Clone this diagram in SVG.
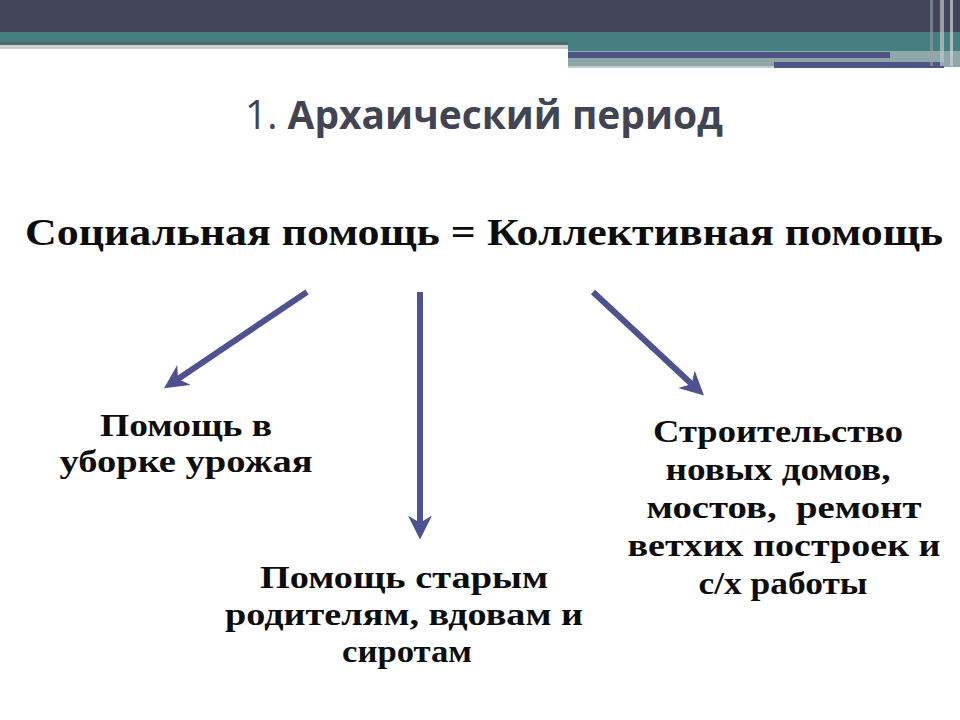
<svg xmlns="http://www.w3.org/2000/svg" width="960" height="720" viewBox="0 0 960 720">
<style>
.t{font-family:"Liberation Serif","Times New Roman",serif;font-weight:bold;fill:#0d0d0d;text-anchor:middle}
.s{font-size:31px}
.c{stroke:#4e5290;stroke-width:6;fill:none}
</style>
<defs>
<marker id="ah" viewBox="0 0 10 10" refX="6" refY="5" markerWidth="4" markerHeight="4" orient="auto" markerUnits="strokeWidth">
<path d="M0,0 L10,5 L0,10 L3,5 Z" fill="#4e5290"/>
</marker>
</defs>
<rect width="960" height="720" fill="#fff"/>
<g id="banner">
<rect x="0" y="0" width="960" height="32" fill="#43455a"/>
<rect x="0" y="32" width="960" height="11" fill="#467f80"/>
<rect x="0" y="42" width="568" height="3" fill="#56676a"/>
<rect x="0" y="45" width="568" height="4" fill="#c9d0d2"/>
<rect x="568" y="43" width="392" height="8" fill="#467f80"/>
<rect x="568" y="51" width="392" height="16" fill="#8ea8aa"/>
<rect x="568" y="52" width="322" height="6" fill="#4f5485"/>
<rect x="774" y="62" width="170" height="6" fill="#4f5485"/>
<rect x="568" y="66" width="206" height="2" fill="#c4ccce"/>
<rect x="930" y="0" width="3" height="66" fill="#9aa0a8" opacity="0.6"/>
<rect x="940" y="0" width="4" height="66" fill="#c0c4cc" opacity="0.7"/>
<rect x="950" y="0" width="3" height="66" fill="#d0d4da" opacity="0.7"/>
</g>
<g id="title">
<text x="484" y="129" font-family="'Open Sans','Liberation Sans',sans-serif" font-size="40" fill="#434452" text-anchor="middle" textLength="478" lengthAdjust="spacingAndGlyphs"><tspan font-weight="normal">1. </tspan><tspan font-weight="bold">Архаический период</tspan></text>
</g>
<g id="main">
<text class="t" x="484" y="245" font-size="38" textLength="918" lengthAdjust="spacingAndGlyphs">Социальная помощь = Коллективная помощь</text>
</g>
<g id="connectors">
<line class="c" x1="307" y1="292" x2="172" y2="383" marker-end="url(#ah)"/>
<line class="c" x1="420" y1="292" x2="420" y2="530" marker-end="url(#ah)"/>
<line class="c" x1="593" y1="292" x2="697" y2="389" marker-end="url(#ah)"/>
</g>
<g id="n1">
<text class="t s" x="186" y="436" textLength="172" lengthAdjust="spacingAndGlyphs">Помощь в</text>
<text class="t s" x="186" y="472" textLength="253" lengthAdjust="spacingAndGlyphs">уборке урожая</text>
</g>
<g id="n2">
<text class="t s" x="404" y="588" textLength="288" lengthAdjust="spacingAndGlyphs">Помощь старым</text>
<text class="t s" x="404" y="625" textLength="358" lengthAdjust="spacingAndGlyphs">родителям, вдовам и</text>
<text class="t s" x="407" y="662" textLength="130" lengthAdjust="spacingAndGlyphs">сиротам</text>
</g>
<g id="n3">
<text class="t s" x="778" y="442" textLength="250" lengthAdjust="spacingAndGlyphs">Строительство</text>
<text class="t s" x="778" y="480" textLength="225" lengthAdjust="spacingAndGlyphs">новых домов,</text>
<text class="t s" x="784" y="518" textLength="275" lengthAdjust="spacingAndGlyphs" xml:space="preserve">мостов,  ремонт</text>
<text class="t s" x="784" y="556" textLength="313" lengthAdjust="spacingAndGlyphs">ветхих построек и</text>
<text class="t s" x="783" y="594" textLength="169" lengthAdjust="spacingAndGlyphs">с/х работы</text>
</g>
</svg>
